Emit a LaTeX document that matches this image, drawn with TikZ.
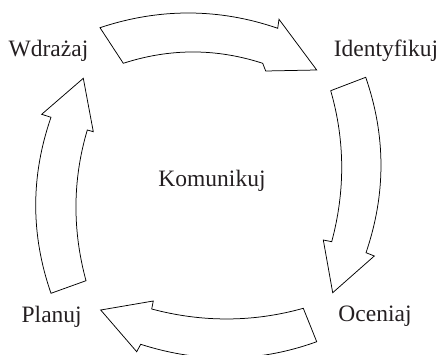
\documentclass[tikz,border=0pt]{standalone}
\usepackage{fontspec}
\setmainfont{Liberation Serif}
\definecolor{txt}{rgb}{0.14,0.12,0.13}
\begin{document}
\begin{tikzpicture}[x=1pt,y=-1pt,
  lbl/.style={font=\fontsize{23.5}{27}\selectfont, text=txt, anchor=base, inner sep=0pt},
  bigarrow/.style={draw=black, fill=white, line width=0.75pt, line join=miter}]
\useasboundingbox (0,0) rectangle (441,355);
\clip (0,0) rectangle (441,355);
% top arrow
\draw[bigarrow] (100,27.7) .. controls (159,8) and (219,8) .. (277.7,28.3)
  -- (279,19.3) -- (316.7,70) -- (265.7,71) -- (262.7,63.3)
  .. controls (216,48.2) and (170,48.2) .. (123.3,63.3) -- cycle;
% right arrow
\draw[bigarrow] (365.7,77.3) .. controls (386,135.8) and (386,194.2) .. (366,252.7)
  -- (374.3,256) -- (332.7,292.7) -- (323.3,240) -- (331.7,241.7)
  .. controls (345.2,191.4) and (345.2,141) .. (330.7,90.7) -- cycle;
% bottom arrow
\draw[bigarrow] (303.3,308.3) .. controls (253,322.4) and (202,322.4) .. (151.7,309)
  -- (153.3,301) -- (100.7,310) -- (136.7,351.7) -- (140.7,344.3)
  .. controls (199,363) and (258,363) .. (316.7,341.7) -- cycle;
% left arrow
\draw[bigarrow] (51,293.3) .. controls (30.6,234.7) and (30.6,176) .. (51,117.3)
  -- (41.7,114.3) -- (83.3,78.3) -- (93.3,131.7) -- (87.3,130)
  .. controls (72.4,180.2) and (72.4,230.5) .. (86,280.7) -- cycle;
% labels
\node[lbl] (wd) at (48.5,56.7) {Wdrażaj};
\node[lbl] (id) at (386,56.7) {Identyfikuj};
\node[lbl] (oc) at (375,321.7) {Oceniaj};
\node[lbl] (pl) at (51.7,322.5) {Planuj};
\node[lbl] (ko) at (212,186.7) {Komunikuj};
\end{tikzpicture}
\end{document}
